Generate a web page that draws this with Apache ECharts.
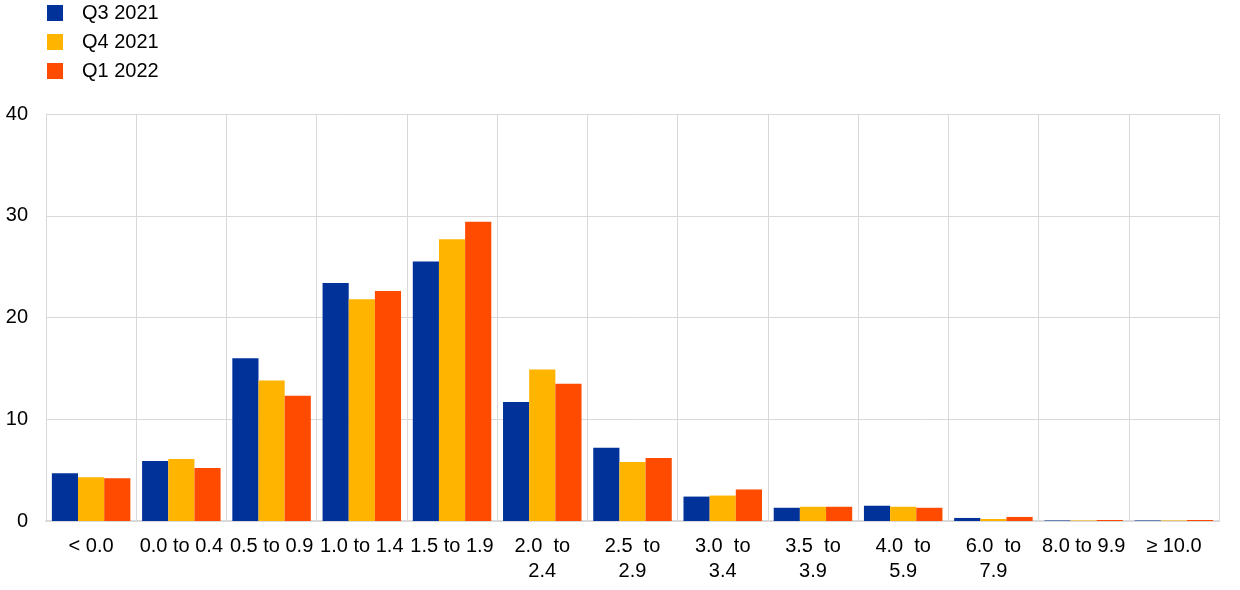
<!DOCTYPE html>
<html>
<head>
<meta charset="utf-8">
<script src="https://cdn.jsdelivr.net/npm/echarts@6/dist/echarts.min.js"></script>
<style>html,body{margin:0;padding:0;background:#fff}#c{width:1240px;height:590px}</style>
</head>
<body>
<div id="c"></div>
<script>
var categories = ['< 0.0', '0.0 to 0.4', '0.5 to 0.9', '1.0 to 1.4', '1.5 to 1.9', '2.0  to\n2.4', '2.5  to\n2.9', '3.0  to\n3.4', '3.5  to\n3.9', '4.0  to\n5.9', '6.0  to\n7.9', '8.0 to 9.9', '\u2265 10.0'];
var q3_2021 = [4.7, 5.9, 16.0, 23.4, 25.5, 11.7, 7.2, 2.4, 1.3, 1.5, 0.3, 0.05, 0.05];
var q4_2021 = [4.3, 6.1, 13.8, 21.8, 27.7, 14.9, 5.8, 2.5, 1.4, 1.4, 0.2, 0.05, 0.05];
var q1_2022 = [4.2, 5.2, 12.3, 22.6, 29.4, 13.5, 6.2, 3.1, 1.4, 1.3, 0.4, 0.1, 0.1];
var seriesNames = ['Q3 2021', 'Q4 2021', 'Q1 2022'];
var colors = ['#003299', '#FFB400', '#FF4B00'];

var chart = echarts.init(document.getElementById('c'), null, {renderer: 'canvas'});
var font = 'Arial, "Liberation Sans", sans-serif';
var data = [q3_2021, q4_2021, q1_2022];
chart.setOption({
  animation: false,
  color: colors,
  textStyle: {fontFamily: font},
  legend: {
    orient: 'vertical', left: 47, top: 3, padding: 0,
    itemWidth: 16, itemHeight: 16, itemGap: 9,
    icon: 'rect',
    textStyle: {fontSize: 20, color: '#000', fontFamily: font, padding: [0, 0, 0, 14]},
    data: seriesNames
  },
  grid: {left: 46, right: 21, top: 114, bottom: 69, containLabel: false},
  xAxis: {
    type: 'category', data: categories, boundaryGap: true,
    axisLine: {show: true, lineStyle: {color: '#d9d9d9', width: 2}},
    axisTick: {show: false},
    splitLine: {show: true, interval: 0, lineStyle: {color: '#d9d9d9', width: 1}},
    axisLabel: {interval: 0, fontSize: 20, color: '#000', fontFamily: font, margin: 13, lineHeight: 25}
  },
  yAxis: {
    type: 'value', min: 0, max: 40, interval: 10,
    axisLine: {show: true, lineStyle: {color: '#d9d9d9'}},
    axisTick: {show: false},
    splitLine: {show: true, lineStyle: {color: '#d9d9d9', width: 1}},
    axisLabel: {fontSize: 20, color: '#000', fontFamily: font, margin: 18}
  },
  series: seriesNames.map(function (n, i) {
    return {
      name: n, type: 'bar', data: data[i],
      barGap: '0%', barCategoryGap: '13%',
      itemStyle: {color: colors[i]}
    };
  })
});
</script>
</body>
</html>
